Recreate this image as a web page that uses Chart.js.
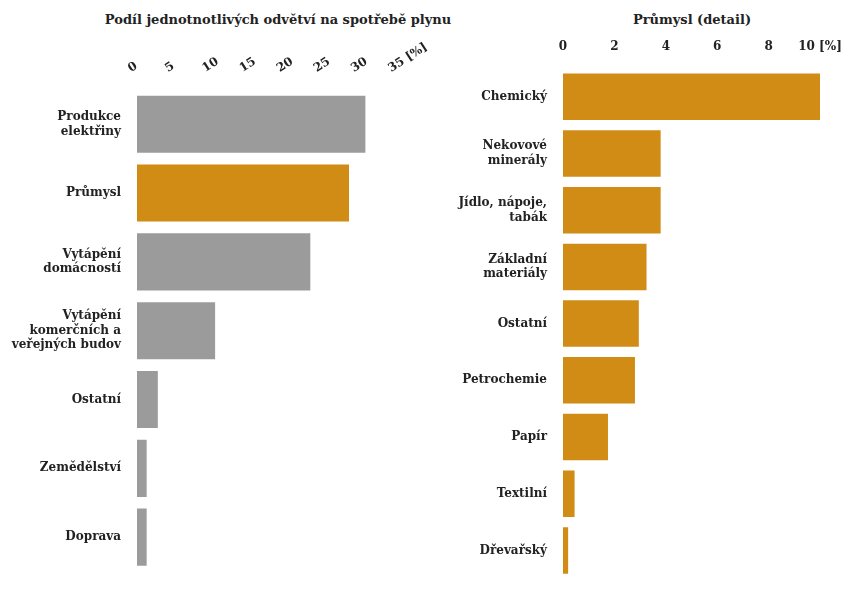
<!DOCTYPE html>
<html><head><meta charset="utf-8">
<script src="https://cdn.jsdelivr.net/npm/chart.js@4"></script>
<style>
body{margin:0;background:#fff;font-family:"DejaVu Serif",serif;}
.t{position:absolute;top:12px;font-weight:bold;font-size:13px;color:#222;white-space:nowrap;transform:translateX(-50%);}
.w{position:absolute;top:34px;height:560px;}
</style></head>
<body>
<div class="t" style="left:278px">Podíl jednotnotlivých odvětví na spotřebě plynu</div>
<div class="t" style="left:692px">Průmysl (detail)</div>
<div class="w" style="left:0;width:440px"><canvas id="left"></canvas></div>
<div class="w" style="left:440px;width:426px"><canvas id="right"></canvas></div>
<script>
var leftLabels = [["Produkce","elektřiny"],"Průmysl",["Vytápění","domácností"],["Vytápění","komerčních a","veřejných budov"],"Ostatní","Zemědělství","Doprava"];
var leftValues = [30.7, 28.5, 23.3, 10.5, 2.8, 1.3, 1.3];
var leftColors = ["#9b9b9b","#d08c14","#9b9b9b","#9b9b9b","#9b9b9b","#9b9b9b","#9b9b9b"];
var rightLabels = ["Chemický",["Nekovové","minerály"],["Jídlo, nápoje,","tabák"],["Základní","materiály"],"Ostatní","Petrochemie","Papír","Textilní","Dřevařský"];
var rightValues = [10.0, 3.8, 3.8, 3.25, 2.95, 2.8, 1.75, 0.45, 0.2];

var font = {family: "DejaVu Serif", weight: "bold", size: 12};

function makeChart(id, labels, values, colors, max, step, yWidth, padRight, barPct) {
  new Chart(document.getElementById(id), {
    type: "bar",
    data: {labels: labels, datasets: [{data: values, backgroundColor: colors, categoryPercentage: 1, barPercentage: barPct}]},
    options: {
      indexAxis: "y",
      responsive: true,
      maintainAspectRatio: false,
      animation: false,
      layout: {padding: {right: padRight, bottom: 4}},
      plugins: {legend: {display: false}, tooltip: {enabled: false}},
      scales: {
        x: {
          position: "top", min: 0, max: max,
          grid: {display: false}, border: {display: false},
          ticks: {stepSize: step, color: "#222", font: font, padding: 6,
            callback: function (v) { return v === max ? v + " [%]" : v; }}
        },
        y: {
          grid: {display: false}, border: {display: false},
          ticks: {color: "#222", font: font, padding: 8},
          afterFit: function (s) { s.width = yWidth; }
        }
      }
    }
  });
}

makeChart("left", leftLabels, leftValues, leftColors, 35, 5, 137, 40, 0.83);
makeChart("right", rightLabels, rightValues, "#d08c14", 10, 2, 123, 46, 0.82);
</script>
</body></html>
